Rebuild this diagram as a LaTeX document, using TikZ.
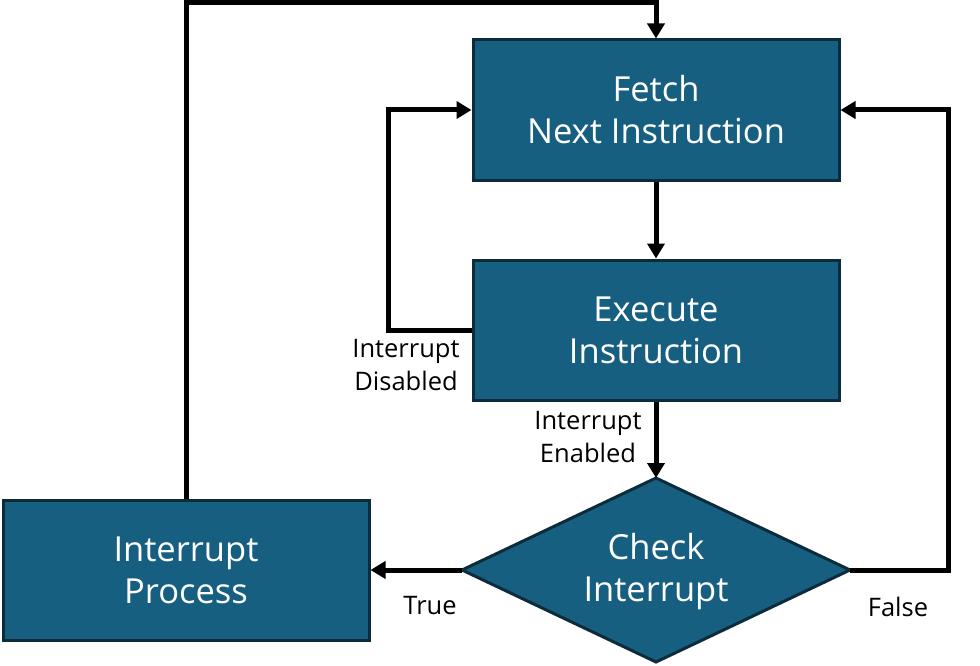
\documentclass[tikz,border=0pt]{standalone}
\usepackage{fontspec}
\setmainfont{Open Sans}
\usetikzlibrary{arrows.meta,shapes.geometric}
\definecolor{boxfill}{HTML}{175F81}
\definecolor{boxline}{HTML}{0C2C3C}
\tikzset{
  procbox/.style={draw=boxline, line width=3pt, fill=boxfill, text=white,
    minimum width=366pt, minimum height=140pt, inner sep=0pt, align=center,
    font=\fontsize{34.5}{42}\selectfont},
  decbox/.style={rectangle, minimum width=388pt, minimum height=184pt, inner sep=0pt,
    outer sep=0pt, text=white, align=center, font=\fontsize{34.5}{42}\selectfont},
  decshape/.style={draw=boxline, line width=3pt, fill=boxfill, line join=miter},
  arr/.style={line width=5pt, -{Triangle[width=17pt,length=15pt]}},
  lbl/.style={align=center, text=black, inner sep=0pt, font=\fontsize{25.5}{33}\selectfont}
}
\begin{document}
\begin{tikzpicture}[x=1pt,y=-1pt]
\useasboundingbox (0,0) rectangle (980,666);
\node[procbox] (fetch) at (656,110) {Fetch\\Next Instruction};
\node[procbox] (exec) at (656,330) {Execute\\Instruction};
\node[procbox] (proc) at (186,570) {Interrupt\\Process};
\node[decbox] (check) at (656,570) {};
\draw[decshape] (check.north) -- (check.east) -- (check.south) -- (check.west) -- cycle;
\node[text=white, align=center, font=\fontsize{34.5}{42}\selectfont, inner sep=0pt] (checktxt) at (656,572) {Check\\Interrupt};
\coordinate (lc) at (388,0);
\coordinate (rc) at (948,0);
\coordinate (tc) at (0,3);
\draw[arr] (fetch.south) -- (exec.north);
\draw[arr] (exec.south) -- (check.north);
\draw[arr] (exec.west) -- (exec.west -| lc) |- (fetch.west);
\draw[arr] (check.east) -- (check.east -| rc) |- (fetch.east);
\draw[arr] (check.west) -- (proc.east);
\draw[arr] (proc.north) -- (proc.north |- tc) -| (fetch.north);
\node[lbl] (ldis) at (406,365) {Interrupt\\Disabled};
\node[lbl] (len) at (588,437) {Interrupt\\Enabled};
\node[lbl] (ltrue) at (430,606) {True};
\node[lbl] (lfalse) at (898,607) {False};
\end{tikzpicture}
\end{document}
